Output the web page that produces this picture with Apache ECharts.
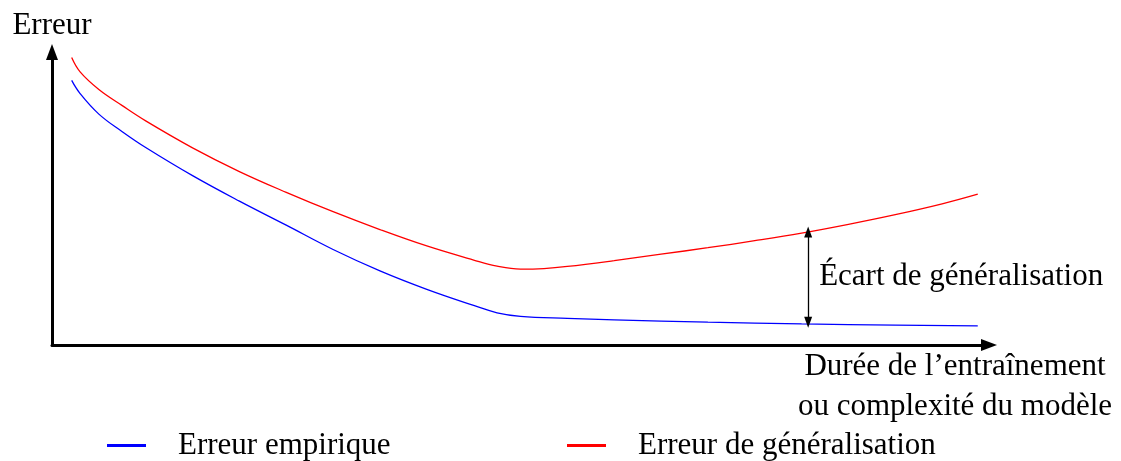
<!DOCTYPE html>
<html>
<head>
<meta charset="utf-8">
<script src="https://cdn.jsdelivr.net/npm/echarts@6/dist/echarts.min.js"></script>
<style>
  html, body { margin: 0; padding: 0; background: #fff; }
  #chart { width: 1121px; height: 461px; }
</style>
</head>
<body>
<div id="chart"></div>
<script>
// Empirical (training) error curve
const empX   = [0.21, 0.30, 0.50, 0.75, 1.00, 1.50, 2.00, 2.50, 3.00, 3.50, 4.00, 4.50, 4.75, 5.00, 5.50, 6.00, 7.00, 8.00, 9.00, 9.88];
const empErr = [9.03, 8.58, 7.88, 7.28, 6.74, 5.78, 4.91, 4.09, 3.26, 2.53, 1.90, 1.35, 1.10, 0.98, 0.91, 0.86, 0.78, 0.72, 0.68, 0.65];

// Generalisation (test) error curve
const genX   = [0.21, 0.30, 0.50, 0.75, 1.00, 1.50, 2.00, 2.50, 3.00, 3.50, 4.00, 4.50, 4.75, 5.00, 5.25, 5.50, 6.00, 6.50, 7.00, 7.50, 8.00, 8.50, 9.00, 9.50, 9.88];
const genErr = [9.81, 9.32, 8.72, 8.17, 7.65, 6.73, 5.92, 5.21, 4.55, 3.94, 3.38, 2.90, 2.69, 2.59, 2.61, 2.68, 2.88, 3.10, 3.32, 3.56, 3.82, 4.12, 4.45, 4.82, 5.15];

// Gap annotation: position on the x axis and the vertical span it covers
const gapX = 8.07;
const gapSpan = [0.78, 3.86];

const names = ['Erreur empirique', 'Erreur de généralisation'];
const gapLabel = 'Écart de généralisation';
const axisNames = { x: 'Durée de l\u2019entraînement\nou complexité du modèle', y: 'Erreur' };

const FONT = 'Liberation Serif';
const FS = 31;

const pairs = (xs, ys) => xs.map((x, i) => [x, ys[i]]);

const chart = echarts.init(document.getElementById('chart'), null, { renderer: 'canvas' });

const axisLineStyle = { color: '#000', width: 3 };

const legendText = { fontFamily: FONT, fontSize: FS, color: '#000', lineHeight: 30, padding: [0, 0, 0, 27] };

chart.setOption({
  backgroundColor: '#fff',
  animation: false,
  grid: { left: 52, right: 132, top: 52, bottom: 116, outerBoundsMode: 'none' },
  xAxis: {
    type: 'value', min: 0, max: 10,
    splitLine: { show: false }, axisTick: { show: false }, axisLabel: { show: false },
    axisLine: { show: true, onZero: false, lineStyle: axisLineStyle, symbol: ['none', 'triangle'], symbolSize: [12, 16] },
    name: axisNames.x, nameLocation: 'end', nameGap: -34,
    nameTextStyle: { fontFamily: FONT, fontSize: FS, color: '#000', align: 'center', verticalAlign: 'top', lineHeight: 40, padding: [2, 0, 0, 0] }
  },
  yAxis: {
    type: 'value', min: 0, max: 10,
    splitLine: { show: false }, axisTick: { show: false }, axisLabel: { show: false },
    axisLine: { show: true, onZero: false, lineStyle: axisLineStyle, symbol: ['none', 'triangle'], symbolSize: [12, 16] },
    name: axisNames.y, nameLocation: 'end', nameGap: 11,
    nameTextStyle: { fontFamily: FONT, fontSize: FS, color: '#000', align: 'center', verticalAlign: 'bottom', lineHeight: 30 }
  },
  legend: [
    {
      data: [names[0]], left: 107, top: 430, padding: 0, icon: 'rect', itemWidth: 39, itemHeight: 3,
      textStyle: legendText
    },
    {
      data: [names[1]], left: 567, top: 430, padding: 0, icon: 'rect', itemWidth: 39, itemHeight: 3,
      textStyle: legendText
    }
  ],
  series: [
    {
      name: names[0], type: 'line', data: pairs(empX, empErr),
      smooth: 0.4, showSymbol: false, symbol: 'none',
      lineStyle: { color: '#0000ff', width: 1.3 }, itemStyle: { color: '#0000ff' }
    },
    {
      name: names[1], type: 'line', data: pairs(genX, genErr),
      smooth: 0.4, showSymbol: false, symbol: 'none',
      lineStyle: { color: '#ff0000', width: 1.3 }, itemStyle: { color: '#ff0000' },
      markLine: {
        silent: true, animation: false,
        symbol: ['triangle', 'triangle'], symbolSize: [8, 11],
        lineStyle: { color: '#000', width: 1.3, type: 'solid' },
        label: { show: false },
        data: [[{ coord: [gapX, gapSpan[0]] }, { coord: [gapX, gapSpan[1]] }]]
      }
    },
    {
      name: 'gap', type: 'scatter', silent: true,
      data: [[gapX, (gapSpan[0] + gapSpan[1]) / 2]],
      symbolSize: 0,
      itemStyle: { opacity: 1, color: '#000' },
      label: {
        show: true, position: 'right', distance: 11, formatter: gapLabel,
        fontFamily: FONT, fontSize: FS, color: '#000', opacity: 1
      }
    }
  ]
});
</script>
</body>
</html>
